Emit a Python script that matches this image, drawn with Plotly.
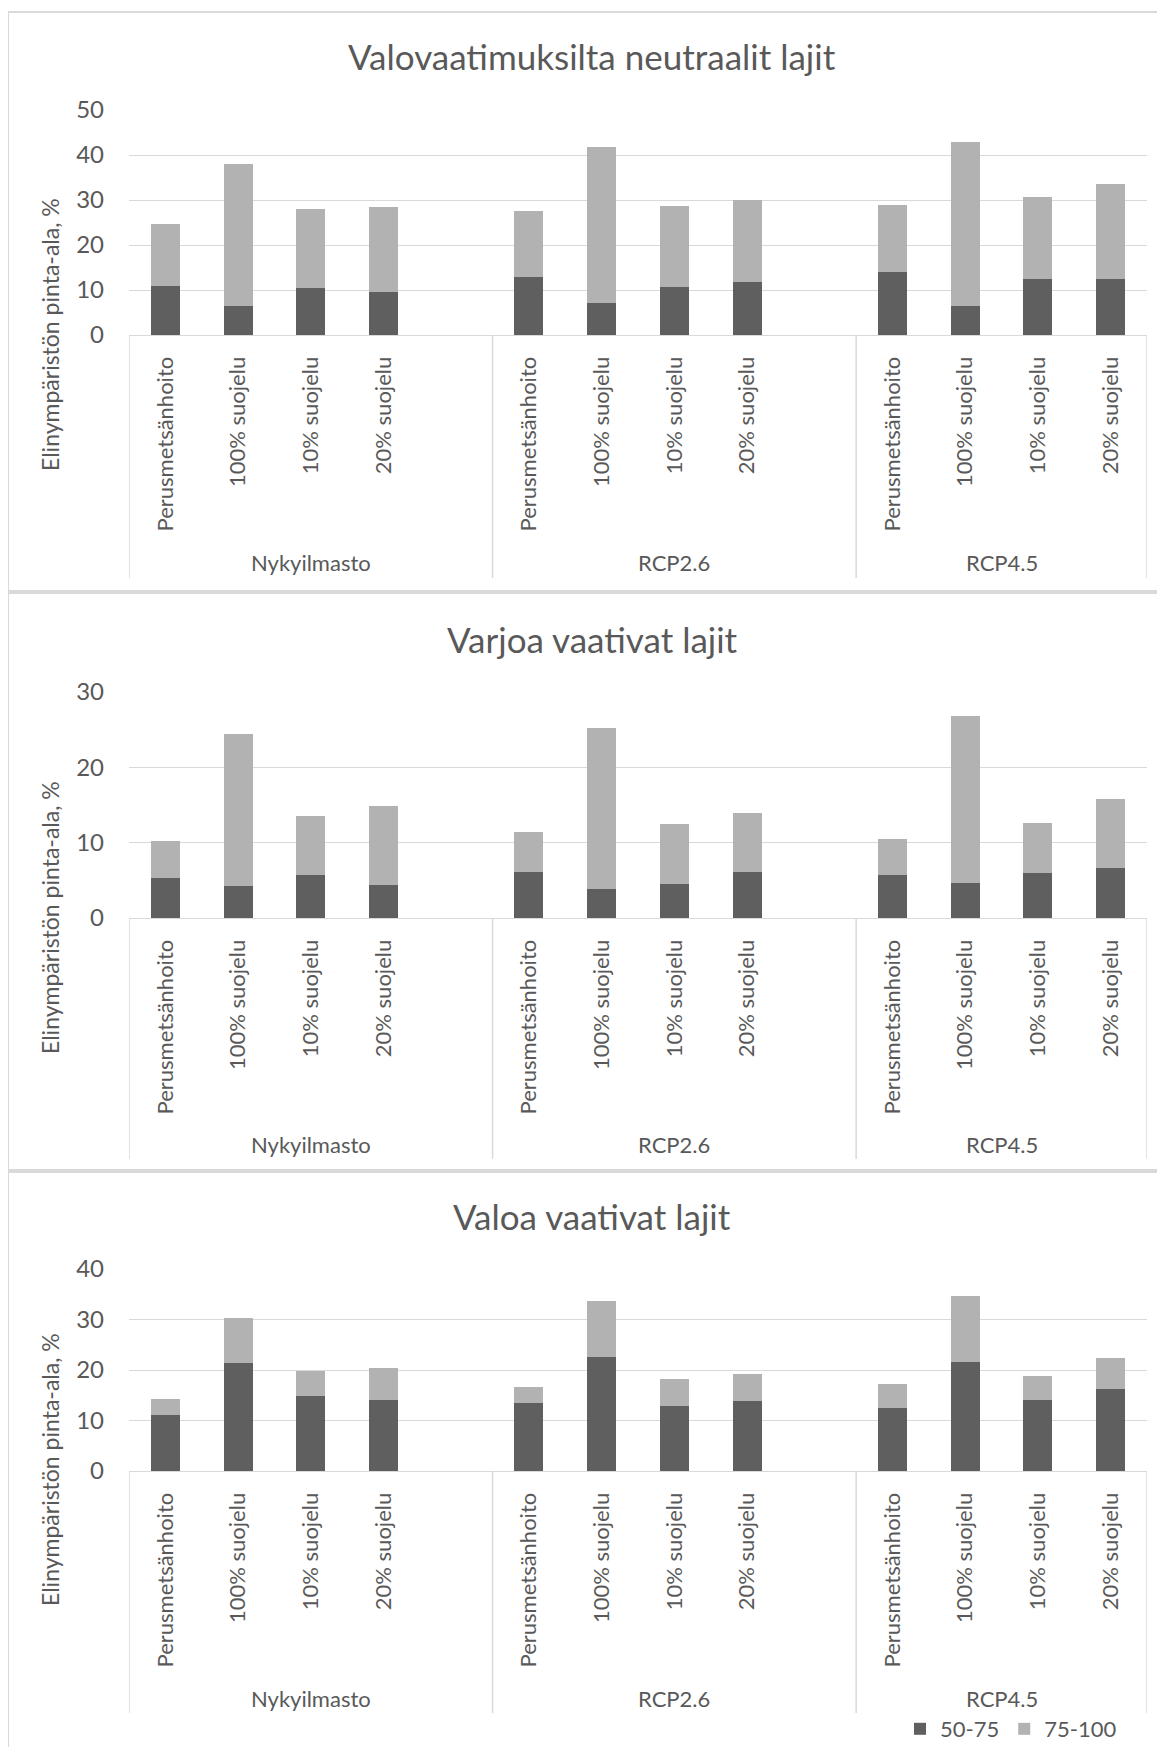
import plotly.graph_objects as go

W, H = 1165, 1747
OFF = 8  # page body margin of the html document

categories = ["Perusmetsänhoito", "100% suojelu", "10% suojelu", "20% suojelu"]
scenarios = ["Nykyilmasto", "RCP2.6", "RCP4.5"]
series_names = ["50-75", "75-100"]

titles = ["Valovaatimuksilta neutraalit lajit", "Varjoa vaativat lajit", "Valoa vaativat lajit"]

# values ordered: scenario-major, then category
neutral_50_75 = [11.0, 6.4, 10.4, 9.5, 13.0, 7.1, 10.7, 11.8, 14.0, 6.4, 12.4, 12.4]
neutral_75_100 = [13.7, 31.7, 17.5, 19.0, 14.6, 34.6, 17.9, 18.2, 15.0, 36.6, 18.3, 21.2]

shade_50_75 = [5.3, 4.3, 5.7, 4.4, 6.1, 3.9, 4.5, 6.1, 5.7, 4.7, 6.0, 6.7]
shade_75_100 = [4.9, 20.1, 7.8, 10.5, 5.3, 21.3, 8.0, 7.9, 4.8, 22.1, 6.6, 9.1]

light_50_75 = [11.0, 21.3, 14.9, 14.1, 13.5, 22.5, 12.8, 13.9, 12.5, 21.5, 14.1, 16.3]
light_75_100 = [3.2, 9.0, 5.0, 6.3, 3.1, 11.2, 5.4, 5.4, 4.8, 13.1, 4.8, 6.1]

y_ticks_neutral = [0, 10, 20, 30, 40, 50]
y_ticks_shade = [0, 10, 20, 30]
y_ticks_light = [0, 10, 20, 30, 40]

panels = [
    (neutral_50_75, neutral_75_100, y_ticks_neutral),
    (shade_50_75, shade_75_100, y_ticks_shade),
    (light_50_75, light_75_100, y_ticks_light),
]

DARK = "#5f5f5f"
LIGHT = "#b2b2b2"
GRID = "#d9d9d9"
TXT = "#595959"
FONT = "Lato"

# slots per scenario group on the category axis (first two groups carry an empty slot)
group_slots = [len(categories) + 1, len(categories) + 1, len(categories)]
group_start = [sum(group_slots[:s]) for s in range(len(scenarios))]
n_slots = sum(group_slots)

# x positions derived from indices
xpos = [group_start[s] + c for s in range(len(scenarios)) for c in range(len(categories))]
xlabels = [categories[c] for s in range(len(scenarios)) for c in range(len(categories))]
dividers = [g - 0.5 for g in group_start] + [n_slots - 0.5]
group_centers = [group_start[s] + (group_slots[s] - 1) / 2 for s in range(len(scenarios))]


def py(p):
    return 1 - (p - OFF) / H


def px(p):
    return (p - OFF) / W


layouts = [
    dict(top=110, bot=335, title=56, ptop=12, pbot=591, dbot=578, glab=562, ytitle=335),
    dict(top=692, bot=918, title=639, ptop=593, pbot=1170, dbot=1159, glab=1144, ytitle=918),
    dict(top=1269, bot=1471, title=1216, ptop=1172, pbot=1765, dbot=1713, glab=1698, ytitle=1470),
]

fig = go.Figure()
shapes = []
annotations = []

x_left, x_right = 129, 1147

for i, ((d1, d2, yt), L) in enumerate(zip(panels, layouts)):
    sfx = "" if i == 0 else str(i + 1)
    xa, ya = "x" + sfx, "y" + sfx
    for vals, name, col in [(d1, series_names[0], DARK), (d2, series_names[1], LIGHT)]:
        fig.add_trace(go.Bar(
            x=xpos, y=vals, name=name, marker=dict(color=col, line=dict(width=0)),
            xaxis=xa, yaxis=ya, showlegend=(i == 0), legendgroup=name,
        ))
    fig.layout["xaxis" + sfx] = dict(
        domain=[px(x_left), px(x_right)], anchor=ya,
        range=[-0.5, n_slots - 0.5],
        tickmode="array", tickvals=xpos, ticktext=xlabels, tickangle=-90,
        tickfont=dict(family=FONT, size=22, color=TXT),
        showgrid=False, zeroline=False, showline=True, linecolor=GRID, linewidth=1,
        ticks="", ticklabelstandoff=12, fixedrange=True, automargin=False,
    )
    fig.layout["yaxis" + sfx] = dict(
        domain=[py(L["bot"]), py(L["top"])], anchor=xa,
        range=[yt[0], yt[-1]], tickmode="array", tickvals=yt,
        tickfont=dict(family=FONT, size=24, color=TXT),
        showgrid=True, gridcolor=GRID, gridwidth=1, zeroline=False, showline=False,
        ticks="", ticklabelstandoff=24, fixedrange=True, automargin=False,
    )
    # panel border
    shapes.append(dict(type="rect", xref="paper", yref="paper",
                       x0=px(8), x1=px(1185), y0=py(L["pbot"]), y1=py(L["ptop"]),
                       line=dict(color=GRID, width=2), fillcolor="rgba(0,0,0,0)", layer="below"))
    # group dividers
    for d in dividers:
        shapes.append(dict(type="line", xref=xa, yref="paper",
                           x0=d, x1=d, y0=py(L["bot"]), y1=py(L["dbot"]),
                           line=dict(color=GRID, width=1.5)))
    # group labels
    for s, name in enumerate(scenarios):
        annotations.append(dict(text=name, xref=xa, yref="paper",
                                x=group_centers[s], y=py(L["glab"]),
                                showarrow=False, xanchor="center", yanchor="middle",
                                font=dict(family=FONT, size=22, color=TXT)))
    # title
    annotations.append(dict(text=titles[i], xref="paper", yref="paper",
                            x=px(592), y=py(L["title"]), showarrow=False,
                            xanchor="center", yanchor="middle",
                            font=dict(family=FONT, size=35, color=TXT)))
    # y-axis title
    annotations.append(dict(text="Elinympäristön pinta-ala, %", xref="paper", yref="paper",
                            x=px(50), y=py(L["ytitle"]), showarrow=False, textangle=-90,
                            xanchor="center", yanchor="middle",
                            font=dict(family=FONT, size=23, color=TXT)))

fig.update_layout(
    width=W, height=H, margin=dict(l=0, r=0, t=0, b=0, autoexpand=False),
    paper_bgcolor="white", plot_bgcolor="white",
    barmode="stack", bargap=0.6,
    shapes=shapes, annotations=annotations,
    legend=dict(orientation="h", x=px(900), y=py(1729), xanchor="left", yanchor="middle",
                font=dict(family=FONT, size=22, color=TXT), bgcolor="rgba(0,0,0,0)",
                itemwidth=30, tracegroupgap=0),
    font=dict(family=FONT, color=TXT),
)

fig.write_html("out.html")
